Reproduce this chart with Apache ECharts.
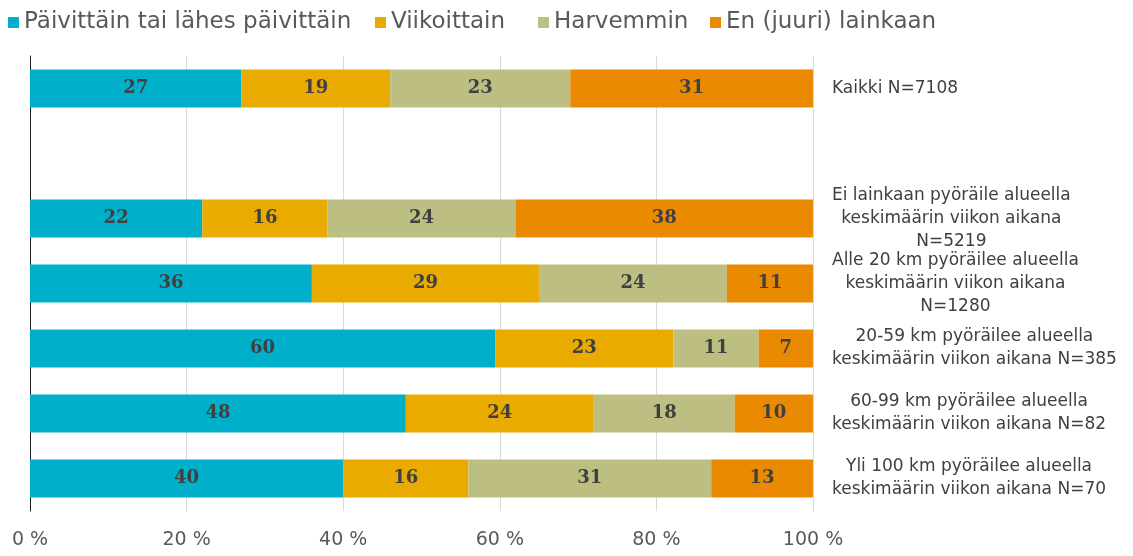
<!DOCTYPE html>
<html>
<head>
<meta charset="utf-8">
<script src="https://cdn.jsdelivr.net/npm/echarts@6/dist/echarts.min.js"></script>
<style>
  html, body { margin: 0; padding: 0; background: #ffffff; }
  #chart { width: 1133px; height: 556px; }
</style>
</head>
<body>
<div id="chart"></div>
<script>
// Pyöräilyn määrä alueella ja vastausten jakauma (%)
const categories = [
  'Kaikki N=7108',
  '',
  'Ei lainkaan pyöräile alueella\nkeskimäärin viikon aikana\nN=5219',
  'Alle 20 km pyöräilee alueella\nkeskimäärin viikon aikana\nN=1280',
  '20-59 km pyöräilee alueella\nkeskimäärin viikon aikana N=385',
  '60-99 km pyöräilee alueella\nkeskimäärin viikon aikana N=82',
  'Yli 100 km pyöräilee alueella\nkeskimäärin viikon aikana N=70'
];
const seriesNames = ['Päivittäin tai lähes päivittäin', 'Viikoittain', 'Harvemmin', 'En (juuri) lainkaan'];
const paivittain = [27, null, 22, 36, 60, 48, 40];
const viikoittain = [19, null, 16, 29, 23, 24, 16];
const harvemmin  = [23, null, 24, 24, 11, 18, 31];
const eiLainkaan = [31, null, 38, 11, 7, 10, 13];
const xTicks = [0, 20, 40, 60, 80, 100];

const colors = ['#00AFCA', '#E9AB00', '#BDBE82', '#EA8A00'];
// left edge of each legend entry
const legendLefts = [3, 370, 533, 705];
const rows = [paivittain, viikoittain, harvemmin, eiLainkaan];

// Each bar is scaled to its row total so that every row fills 0-100 %
const totals = categories.map((_, i) =>
  rows.reduce((s, r) => s + (r[i] == null ? 0 : r[i]), 0));

const series = rows.map((vals, k) => ({
  name: seriesNames[k],
  type: 'bar',
  stack: 'total',
  yAxisIndex: 0,
  barWidth: 38,
  itemStyle: { color: colors[k] },
  label: {
    show: true,
    position: 'inside',
    fontFamily: 'DejaVu Serif',
    fontWeight: 'bold',
    fontSize: 18,
    color: '#404040',
    formatter: p => vals[p.dataIndex]
  },
  data: vals.map((v, i) => v == null ? '-' : {
    value: v / totals[i] * 100
  })
}));

const legends = seriesNames.map((n, i) => ({
  left: legendLefts[i],
  top: 6,
  itemWidth: 11,
  itemHeight: 11,
  icon: 'rect',
  textStyle: { fontSize: 23, color: '#595959', fontFamily: 'DejaVu Sans' },
  data: [n]
}));

const chart = echarts.init(document.getElementById('chart'), null, { renderer: 'canvas' });
chart.setOption({
  animation: false,
  backgroundColor: '#ffffff',
  textStyle: { fontFamily: 'DejaVu Sans' },
  legend: legends,
  grid: { left: 30, right: 320, top: 56, bottom: 45, containLabel: false },
  xAxis: {
    type: 'value',
    min: 0,
    max: 100,
    interval: 20,
    axisLine: { show: false },
    axisTick: { show: false },
    splitLine: { lineStyle: { color: '#d9d9d9', width: 1 } },
    axisLabel: {
      margin: 20,
      fontSize: 19,
      color: '#595959',
      formatter: v => xTicks.includes(v) ? v + ' %' : ''
    }
  },
  yAxis: [
    {
      type: 'category',
      inverse: true,
      data: categories,
      position: 'left',
      axisLine: { show: true, lineStyle: { color: '#1a1a1a', width: 1 } },
      axisTick: { show: false },
      axisLabel: { show: false },
      splitLine: { show: false }
    },
    {
      type: 'category',
      inverse: true,
      data: categories,
      position: 'right',
      axisLine: { show: false },
      axisTick: { show: false },
      splitLine: { show: false },
      axisLabel: {
        interval: 0,
        margin: 19,
        align: 'left',
        verticalAlign: 'middle',
        fontSize: 17,
        lineHeight: 23,
        color: '#404040',
        formatter: v => v.split('\n').map(l => '{c|' + l + '}').join('\n'),
        rich: {
          c: { align: 'center', fontSize: 17, lineHeight: 23, color: '#404040', fontFamily: 'DejaVu Sans' }
        }
      }
    }
  ],
  series: series
});
</script>
</body>
</html>
